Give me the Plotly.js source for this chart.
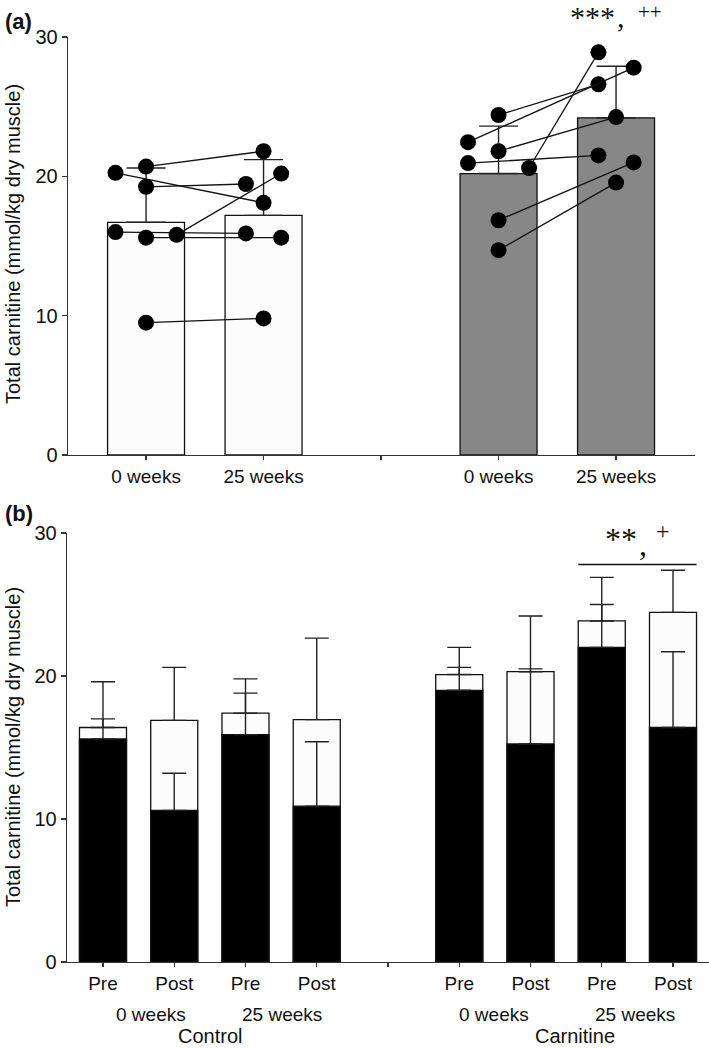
<!DOCTYPE html>
<html>
<head>
<meta charset="utf-8">
<script src="https://cdn.plot.ly/plotly-3.0.1.min.js"></script>
<style>html,body{margin:0;padding:0;background:#fff;}#chart{width:709px;height:1048px;}</style>
</head>
<body>
<div id="chart"></div>
<script>
// ---------- Panel (a) data ----------
const groupsA = ["0 weeks", "25 weeks", "", "0 weeks", "25 weeks"];
const ctrl0 = [20.7, 20.25, 19.25, 16.0, 15.6, 15.8, 9.5];
const ctrl25 = [21.8, 18.1, 19.45, 15.9, 15.6, 20.2, 9.8];
const ctrl0Lane = [0, -1, 0, -1, 0, 1, 0];
const ctrl25Lane = [0, 0, -1, -1, 1, 1, 0];
const carn0 = [24.4, 22.45, 21.8, 20.95, 20.6, 16.85, 14.7];
const carn25 = [26.6, 27.8, 24.25, 21.5, 28.9, 21.0, 19.55];
const carn0Lane = [0, -1, 0, -1, 1, 0, 0];
const carn25Lane = [-1, 1, 0, -1, -1, 1, 0];
const meanA = [16.7, 17.2, 20.2, 24.2];
const errA = [3.9, 4.0, 3.4, 3.7];

// ---------- Panel (b) data ----------
const labelsB = ["Pre", "Post", "Pre", "Post", "", "Pre", "Post", "Pre", "Post"];
const blackB = [15.6, 10.6, 15.9, 10.9, 19.0, 15.25, 22.0, 16.4];
const totalB = [16.4, 16.9, 17.4, 16.95, 20.1, 20.3, 23.85, 24.45];
const totalErrB = [3.2, 3.7, 2.4, 5.7, 1.9, 3.9, 3.05, 2.95];
const blackErrB = [1.4, 2.6, 2.9, 4.5, 1.6, 5.25, 3.0, 5.3];
const sigB = 27.8;

// ---------- positions / styles ----------
const posA = [0, 1, 3, 4];
const posB = [0, 1, 2, 3, 5, 6, 7, 8];
const lane0 = 0.26, lane25 = 0.15;
const YMAX = 30;
const FONT = "Liberation Sans, Arial, sans-serif";
const SERIF = "Liberation Serif, Times New Roman, serif";
const INK = "#111";

const traces = [];

// Bars (a)
traces.push({
  type: "bar", x: posA, y: meanA, width: 0.655, xaxis: "x", yaxis: "y",
  marker: {color: ["#fcfcfc", "#fcfcfc", "#878787", "#878787"], line: {color: INK, width: 1.3}},
  hoverinfo: "skip"
});
// Error bars (a)
traces.push({
  type: "scatter", mode: "markers", x: posA, y: meanA, xaxis: "x", yaxis: "y",
  marker: {size: 1, opacity: 0},
  error_y: {type: "data", symmetric: false, array: errA, arrayminus: errA.map(() => 0),
            width: 19.5, thickness: 1.4, color: "#222"},
  hoverinfo: "skip"
});
// Paired subjects (a)
function addPairs(v0, v25, l0, l25, p0, p25) {
  for (let i = 0; i < v0.length; i++) {
    traces.push({
      type: "scatter", mode: "lines+markers", xaxis: "x", yaxis: "y",
      x: [p0 + l0[i] * lane0, p25 + l25[i] * lane25], y: [v0[i], v25[i]],
      line: {color: INK, width: 1.3}, marker: {color: "#000", size: 16},
      cliponaxis: false, hoverinfo: "skip"
    });
  }
}
addPairs(ctrl0, ctrl25, ctrl0Lane, ctrl25Lane, posA[0], posA[1]);
addPairs(carn0, carn25, carn0Lane, carn25Lane, posA[2], posA[3]);

// Bars (b): white total, black overlay
traces.push({
  type: "bar", x: posB, y: totalB, width: 0.66, xaxis: "x2", yaxis: "y2",
  marker: {color: "#fcfcfc", line: {color: INK, width: 1.3}}, hoverinfo: "skip"
});
traces.push({
  type: "bar", x: posB, y: blackB, width: 0.66, xaxis: "x2", yaxis: "y2",
  marker: {color: "#000", line: {color: INK, width: 1.3}}, hoverinfo: "skip"
});
traces.push({
  type: "scatter", mode: "markers", x: posB, y: totalB, xaxis: "x2", yaxis: "y2",
  marker: {size: 1, opacity: 0},
  error_y: {type: "data", symmetric: false, array: totalErrB, arrayminus: totalErrB.map(() => 0),
            width: 12, thickness: 1.4, color: "#222"},
  hoverinfo: "skip"
});
traces.push({
  type: "scatter", mode: "markers", x: posB, y: blackB, xaxis: "x2", yaxis: "y2",
  marker: {size: 1, opacity: 0},
  error_y: {type: "data", symmetric: false, array: blackErrB, arrayminus: blackErrB.map(() => 0),
            width: 12, thickness: 1.4, color: "#222"},
  hoverinfo: "skip"
});

const axisCommon = {
  showline: true, linecolor: "#333", linewidth: 1.3, showgrid: false, zeroline: false,
  ticks: "outside", tickcolor: "#333", tickwidth: 1.2, fixedrange: true,
  tickfont: {family: FONT, size: 19, color: INK}
};

function txt(text, xref, yref, x, y, size, family, extra) {
  return Object.assign({text: text, xref: xref, yref: yref, x: x, y: y, xanchor: "center", yanchor: "middle",
    showarrow: false, font: {family: family || FONT, size: size, color: INK}}, extra || {});
}

const yTitle = "Total carnitine (mmol/kg dry muscle)";
const annotations = [
  txt("<b>(a)</b>", "paper", "paper", -0.0997, 1 - 22 / 1048, 22, FONT, {xanchor: "left"}),
  txt("<b>(b)</b>", "paper", "paper", -0.0997, 1 - 513 / 1048, 22, FONT, {xanchor: "left"}),
  txt(yTitle, "paper", "paper", -0.0841, 1 - 244 / 1048, 20, FONT, {textangle: -90}),
  txt(yTitle, "paper", "paper", -0.0841, 1 - 747 / 1048, 20, FONT, {textangle: -90}),
  // significance (a)  (y in axis-domain fraction: value / YMAX)
  txt("***", "x", "y domain", 3.80, 31.44 / YMAX, 30, SERIF),
  txt(",", "x", "y domain", 4.043, 31.44 / YMAX, 30, SERIF),
  txt("++", "x", "y domain", 4.289, 31.76 / YMAX, 21, SERIF),
  // significance (b)
  txt("**", "x2", "y2 domain", 7.27, 29.56 / YMAX, 32, SERIF),
  txt(",", "x2", "y2 domain", 7.579, 29.25 / YMAX, 32, SERIF),
  txt("+", "x2", "y2 domain", 7.86, 30.14 / YMAX, 24, SERIF),
  // group labels (b)
  txt("0 weeks", "x2", "paper", 0.68, 1 - 1014 / 1048, 19),
  txt("25 weeks", "x2", "paper", 2.51, 1 - 1014 / 1048, 19),
  txt("0 weeks", "x2", "paper", 5.49, 1 - 1014 / 1048, 19),
  txt("25 weeks", "x2", "paper", 7.47, 1 - 1014 / 1048, 19),
  txt("Control", "x2", "paper", 1.5, 1 - 1036 / 1048, 20),
  txt("Carnitine", "x2", "paper", 6.62, 1 - 1036 / 1048, 20)
];

const layout = {
  width: 709, height: 1048,
  margin: {l: 67, r: 0, t: 0, b: 0},
  paper_bgcolor: "#fff", plot_bgcolor: "rgba(0,0,0,0)",
  showlegend: false, barmode: "overlay",
  xaxis: Object.assign({}, axisCommon, {
    domain: [0.0016, 0.9782], range: [-0.664, 4.672], anchor: "y",
    tickmode: "array", tickvals: [0, 1, 2, 3, 4], ticktext: groupsA, ticklen: 4
  }),
  yaxis: Object.assign({}, axisCommon, {
    domain: [1 - 455 / 1048, 1 - 37 / 1048], range: [0, YMAX], anchor: "x",
    tickmode: "array", tickvals: [0, 10, 20, 30], ticklen: 5,
    tickfont: {family: FONT, size: 20, color: INK}
  }),
  xaxis2: Object.assign({}, axisCommon, {
    domain: [0, 1], range: [-0.505, 8.505], anchor: "y2",
    tickmode: "array", tickvals: [0, 1, 2, 3, 4, 5, 6, 7, 8], ticktext: labelsB, ticklen: 4
  }),
  yaxis2: Object.assign({}, axisCommon, {
    domain: [1 - 962 / 1048, 1 - 533 / 1048], range: [0, YMAX], anchor: "x2",
    tickmode: "array", tickvals: [0, 10, 20, 30], ticklen: 5,
    tickfont: {family: FONT, size: 20, color: INK}
  }),
  shapes: [
    {type: "line", xref: "x2", yref: "y2", x0: posB[6] - 0.33, x1: posB[7] + 0.33, y0: sigB, y1: sigB,
     line: {color: INK, width: 1.4}}
  ],
  annotations: annotations
};

Plotly.newPlot("chart", traces, layout, {displayModeBar: false, staticPlot: true});
</script>
</body>
</html>
